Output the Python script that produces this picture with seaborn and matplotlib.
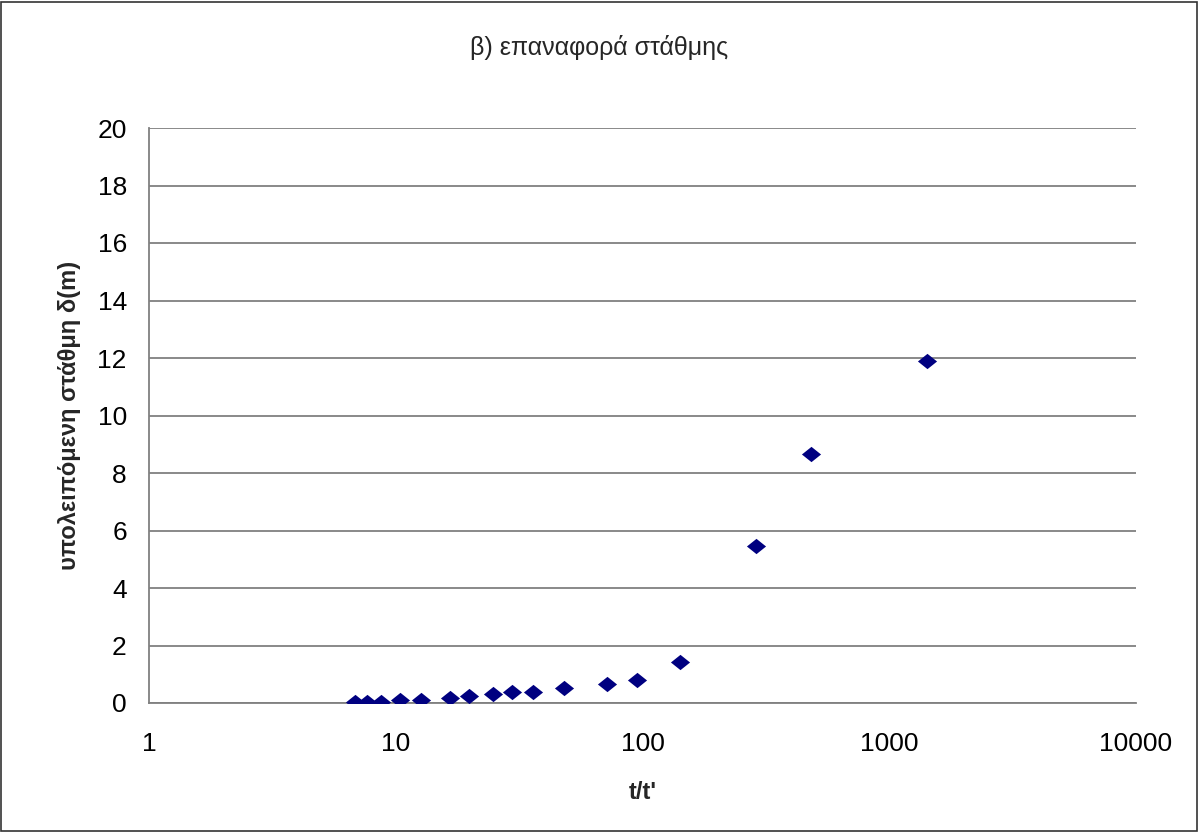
import matplotlib
matplotlib.use("Agg")
import matplotlib.pyplot as plt
import seaborn as sns
import pandas as pd
from matplotlib.patches import Rectangle

t_ratio = [6.84, 7.68, 8.75, 10.45, 12.7, 16.6, 19.8, 24.7, 29.5, 36.0, 48.1, 71.5, 95.1, 142, 288, 481, 1420]
drawdown = [0.05, 0.05, 0.05, 0.10, 0.10, 0.17, 0.25, 0.32, 0.39, 0.38, 0.53, 0.67, 0.81, 1.43, 5.47, 8.66, 11.88]
x_ticks = [1, 10, 100, 1000, 10000]
x_tick_labels = ["1", "10", "100", "1000", "10000"]
y_ticks = [0, 2, 4, 6, 8, 10, 12, 14, 16, 18, 20]

title = "β) επαναφορά στάθμης"
xlabel = "t/t'"
ylabel = "υπολειπόμενη στάθμη δ(m)"

sns.set_style("white")
plt.rcParams['font.family'] = ['Liberation Sans', 'DejaVu Sans']

df = pd.DataFrame({"t": t_ratio, "d": drawdown})

W, H = 1199, 832
fig = plt.figure(figsize=(W / 100, H / 100), dpi=100)
ax = fig.add_axes([149 / W, 1 - 703 / H, (1136 - 149) / W, (703 - 128) / H])

diamond = [(-1, 0), (0, 0.8), (1, 0), (0, -0.8), (-1, 0)]
sns.scatterplot(data=df, x="t", y="d", ax=ax, marker=diamond, s=190,
                color="#000080", edgecolor="#000080", linewidth=0, zorder=3)

ax.set_xscale("log")
ax.set_xlim(1, 10000)
ax.set_ylim(0, 20)
ax.set_xticks(x_ticks)
ax.set_xticklabels(x_tick_labels)
ax.xaxis.set_minor_locator(matplotlib.ticker.NullLocator())
ax.set_yticks(y_ticks)
ax.set_yticklabels([str(v) for v in y_ticks])

ax.yaxis.grid(True, color="#808080", linewidth=1.3)
ax.xaxis.grid(False)
ax.set_axisbelow(True)

for s in ["top", "right"]:
    ax.spines[s].set_visible(False)
for s in ["left", "bottom"]:
    ax.spines[s].set_color("#808080")
    ax.spines[s].set_linewidth(1.3)

ax.tick_params(axis="both", direction="out", length=7, width=1, color="#555555",
               labelsize=19, labelcolor="black")
ax.tick_params(axis="x", pad=14)
ax.tick_params(axis="y", pad=9)

ax.set_xlabel(xlabel, fontsize=17, fontweight="bold", labelpad=18)
ax.set_ylabel(ylabel, fontsize=17, fontweight="bold", labelpad=12)

fig.text(0.5, 1 - 48 / H, title, ha="center", va="center", fontsize=18)

fig.patches.append(Rectangle((1 / W, 1 / H), 1 - 3 / W, 1 - 3 / H, transform=fig.transFigure,
                             fill=False, edgecolor="#333333", linewidth=1.2))

fig.savefig("out.png", dpi=100, facecolor="white")
